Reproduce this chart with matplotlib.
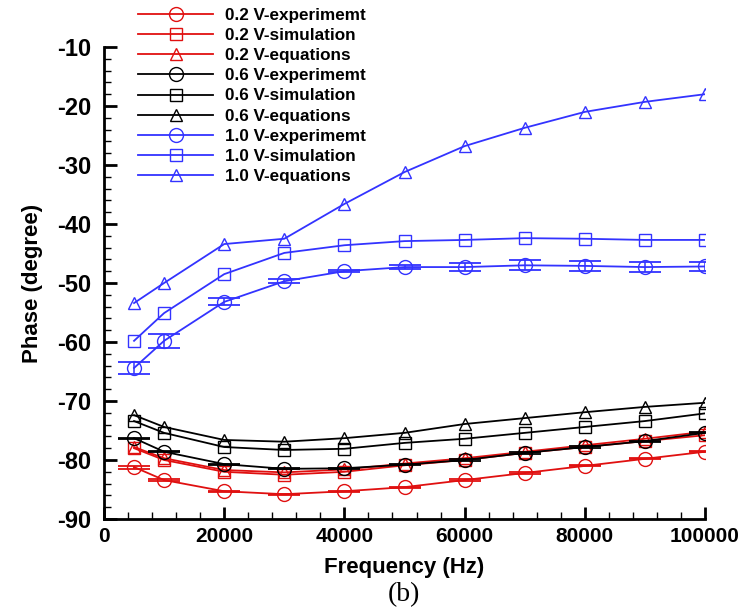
import numpy as np
import matplotlib
matplotlib.use('Agg')
import matplotlib.pyplot as plt
from matplotlib.ticker import MultipleLocator

# frequency points (Hz)
freq = [5000, 10000, 20000, 30000, 40000, 50000, 60000, 70000, 80000, 90000, 100000]

# 0.2 V
exp_02 = [-81.2, -83.4, -85.3, -85.8, -85.3, -84.6, -83.4, -82.2, -81.0, -79.8, -78.6]
err_02 = [0.25, 0.15, 0.1, 0.1, 0.1, 0.1, 0.1, 0.1, 0.1, 0.1, 0.1]
sim_02 = [-78.0, -80.0, -82.0, -82.5, -82.0, -80.9, -80.0, -78.8, -77.8, -76.8, -75.8]
eq_02 = [-77.8, -79.7, -81.7, -82.1, -81.6, -80.6, -79.7, -78.6, -77.5, -76.4, -75.2]

# 0.6 V
exp_06 = [-76.3, -78.6, -80.7, -81.5, -81.4, -80.8, -80.0, -78.8, -77.8, -76.8, -75.4]
err_06 = [0.1, 0.1, 0.1, 0.1, 0.1, 0.1, 0.1, 0.1, 0.1, 0.1, 0.1]
sim_06 = [-73.4, -75.4, -77.8, -78.3, -78.1, -77.1, -76.4, -75.4, -74.4, -73.4, -72.1]
eq_06 = [-72.4, -74.4, -76.6, -76.9, -76.3, -75.4, -73.9, -72.9, -71.9, -71.0, -70.3]

# 1.0 V
exp_10 = [-64.4, -59.8, -53.2, -49.7, -48.0, -47.3, -47.3, -47.0, -47.1, -47.3, -47.2]
err_10 = [1.0, 1.2, 0.6, 0.35, 0.2, 0.35, 0.7, 0.85, 0.8, 0.9, 0.7]
sim_10 = [-59.8, -55.1, -48.5, -44.9, -43.6, -42.9, -42.7, -42.4, -42.5, -42.7, -42.7]
eq_10 = [-53.4, -50.0, -43.4, -42.5, -36.6, -31.2, -26.8, -23.7, -21.0, -19.3, -18.0]

RED = '#e01010'
BLACK = '#000000'
BLUE = '#3333ff'

plt.rcParams['font.family'] = ['Liberation Sans', 'DejaVu Sans']
plt.rcParams['font.weight'] = 'bold'
plt.rcParams['axes.unicode_minus'] = False

fig = plt.figure(figsize=(7.45, 6.09), dpi=100)
ax = fig.add_axes([104 / 745, 1 - 519 / 609, 601 / 745, 472 / 609])

series = [
    ('0.2 V', RED, exp_02, err_02, sim_02, eq_02),
    ('0.6 V', BLACK, exp_06, err_06, sim_06, eq_06),
    ('1.0 V', BLUE, exp_10, err_10, sim_10, eq_10),
]

lw = 1.3
for name, c, ex, er, si, eq in series:
    ax.errorbar(freq, ex, yerr=er, fmt='none', ecolor=c, elinewidth=1.1,
                capsize=11.5, capthick=1.3)
    ax.plot(freq, ex, '-o', color=c, lw=lw, ms=10, mfc='none', mew=1.0,
            label=name + '-experimemt')
    ax.plot(freq, si, '-s', color=c, lw=lw, ms=8, mfc='none', mew=1.0,
            label=name + '-simulation')
    ax.plot(freq, eq, '-^', color=c, lw=lw, ms=9, mfc='none', mew=1.0,
            label=name + '-equations')

ax.set_xlim(0, 100000)
ax.set_ylim(-90, -10)
ax.xaxis.set_major_locator(MultipleLocator(20000))
ax.xaxis.set_minor_locator(MultipleLocator(4000))
ax.yaxis.set_major_locator(MultipleLocator(10))
ax.yaxis.set_minor_locator(MultipleLocator(2))

for s in ['top', 'right']:
    ax.spines[s].set_visible(False)
for s in ['left', 'bottom']:
    ax.spines[s].set_linewidth(2.0)

ax.tick_params(which='major', direction='in', length=9, width=2.0)
ax.tick_params(which='minor', direction='in', length=5, width=1.0)
ax.tick_params(axis='x', which='major', labelsize=15, pad=6)
ax.tick_params(axis='y', which='major', labelsize=17, pad=9)

ax.set_xlabel('Frequency (Hz)', fontsize=16, fontweight='bold', labelpad=8)
ax.set_ylabel('Phase (degree)', fontsize=16, fontweight='bold', labelpad=10)

leg = ax.legend(loc='upper left', bbox_to_anchor=(138 / 745, 1 - 8 / 609),
                bbox_transform=fig.transFigure, frameon=False, fontsize=12.3,
                handlelength=4.4, handletextpad=0.7, labelspacing=0.3,
                borderpad=0, borderaxespad=0, numpoints=1)
for t in leg.get_texts():
    t.set_fontweight('bold')

fig.text(404 / 745, 1 - 595 / 609, '(b)', ha='center', va='center',
         fontsize=20, fontweight='normal', family='Liberation Serif')

fig.savefig('out.png', dpi=100)
